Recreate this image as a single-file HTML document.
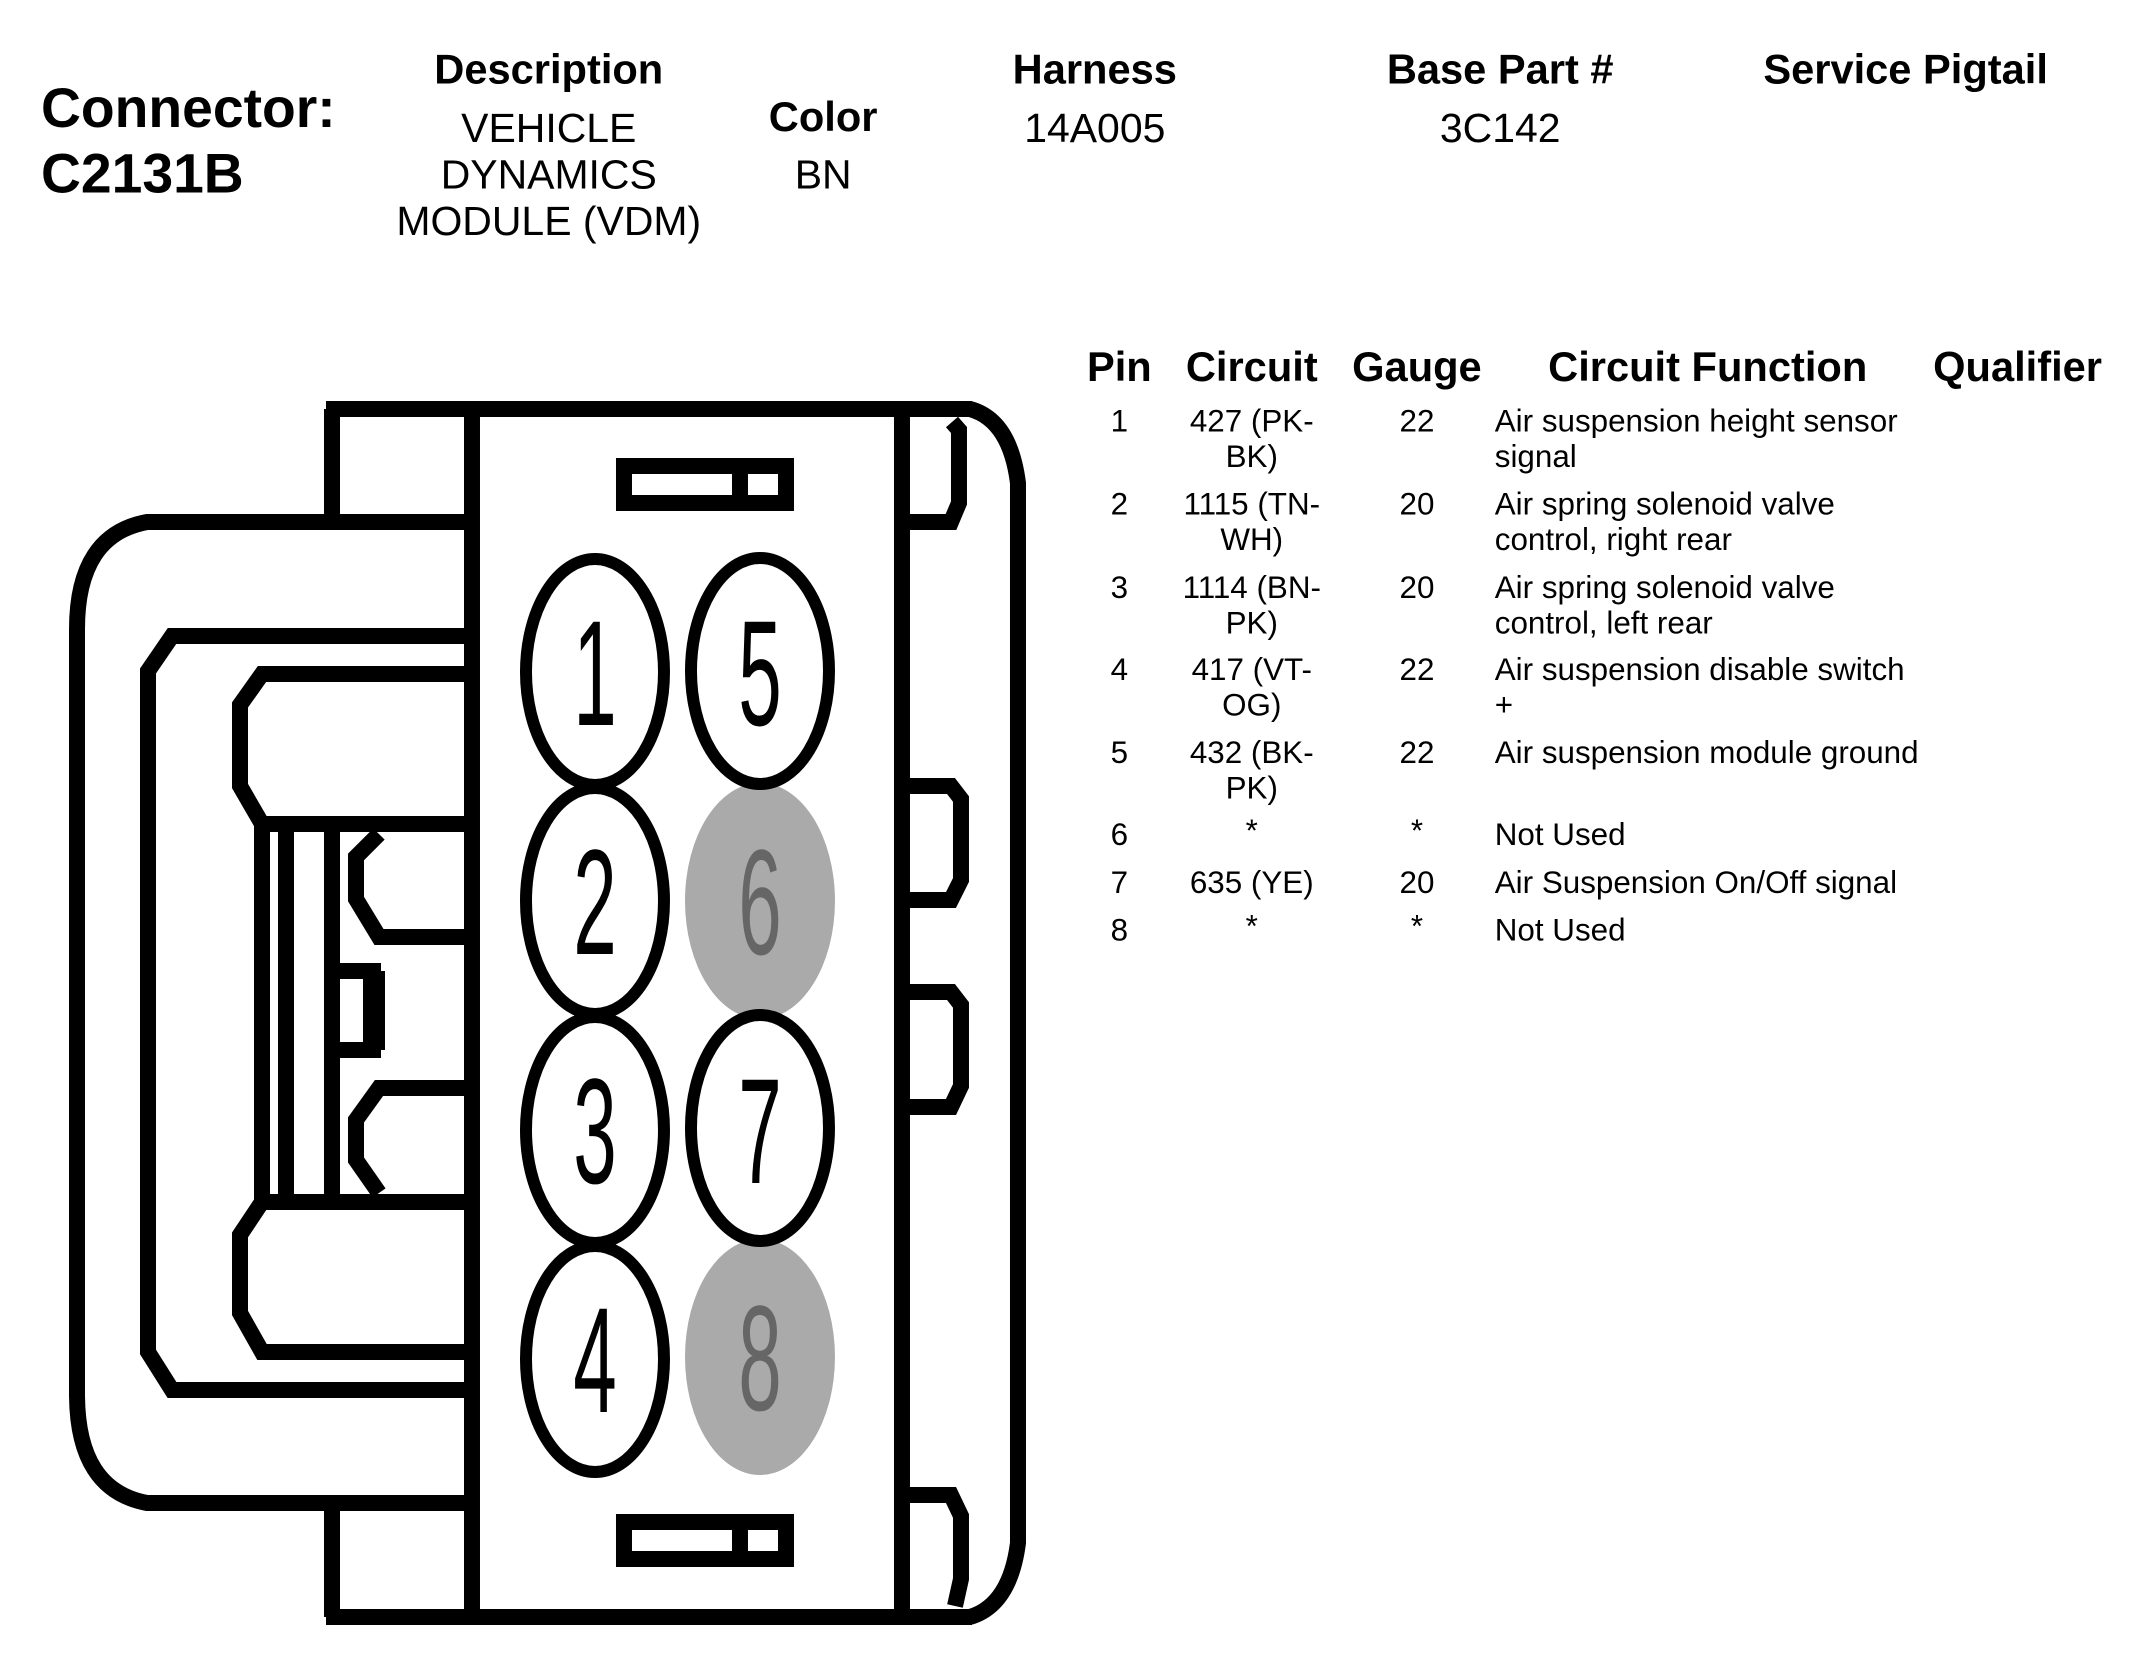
<!DOCTYPE html>
<html><head><meta charset="utf-8"><style>
html,body{margin:0;padding:0;background:#fff;}
svg{display:block;}
text{font-family:"Liberation Sans",Arial,sans-serif;fill:#000;}
.h{font-weight:bold;font-size:30.5px;text-anchor:middle;}
.v{font-size:30px;text-anchor:middle;}
.r{font-size:23px;}
.c{text-anchor:middle;}
.n{font-size:150px;text-anchor:middle;}
</style></head><body>
<svg width="2140" height="1680" viewBox="0 0 1552 1218.4" xmlns="http://www.w3.org/2000/svg">
<rect width="1552" height="1218.4" fill="#fff"/>
<g transform="scale(0.99)">
<text x="30" y="93" style="font-weight:bold;font-size:40.5px">Connector:</text>
<text x="30" y="141" style="font-weight:bold;font-size:40.5px">C2131B</text>
<text class="h" x="402" y="61">Description</text>
<text class="v" x="402" y="104">VEHICLE</text>
<text class="v" x="402" y="138">DYNAMICS</text>
<text class="v" x="402" y="172">MODULE (VDM)</text>
<text class="h" x="603" y="96">Color</text>
<text class="v" x="603" y="138">BN</text>
<text class="h" x="802" y="61">Harness</text>
<text class="v" x="802" y="104">14A005</text>
<text class="h" x="1099" y="61">Base Part #</text>
<text class="v" x="1099" y="104">3C142</text>
<text class="h" x="1396" y="61">Service Pigtail</text>

<text class="h" x="820" y="279">Pin</text>
<text class="h" x="917" y="279">Circuit</text>
<text class="h" x="1038" y="279">Gauge</text>
<text class="h" x="1251" y="279">Circuit Function</text>
<text class="h" x="1478" y="279">Qualifier</text>
<g class="r">
<text class="c" x="820" y="316">1</text><text class="c" x="917" y="316">427 (PK-</text><text class="c" x="917" y="342">BK)</text><text class="c" x="1038" y="316">22</text><text x="1095" y="316">Air suspension height sensor</text><text x="1095" y="342">signal</text>
<text class="c" x="820" y="377">2</text><text class="c" x="917" y="377">1115 (TN-</text><text class="c" x="917" y="403">WH)</text><text class="c" x="1038" y="377">20</text><text x="1095" y="377">Air spring solenoid valve</text><text x="1095" y="403">control, right rear</text>
<text class="c" x="820" y="438">3</text><text class="c" x="917" y="438">1114 (BN-</text><text class="c" x="917" y="464">PK)</text><text class="c" x="1038" y="438">20</text><text x="1095" y="438">Air spring solenoid valve</text><text x="1095" y="464">control, left rear</text>
<text class="c" x="820" y="498">4</text><text class="c" x="917" y="498">417 (VT-</text><text class="c" x="917" y="524">OG)</text><text class="c" x="1038" y="498">22</text><text x="1095" y="498">Air suspension disable switch</text><text x="1095" y="524">+</text>
<text class="c" x="820" y="559">5</text><text class="c" x="917" y="559">432 (BK-</text><text class="c" x="917" y="585">PK)</text><text class="c" x="1038" y="559">22</text><text x="1095" y="559">Air suspension module ground</text>
<text class="c" x="820" y="619">6</text><text class="c" x="917" y="616">*</text><text class="c" x="1038" y="616">*</text><text x="1095" y="619">Not Used</text>
<text class="c" x="820" y="654">7</text><text class="c" x="917" y="654">635 (YE)</text><text class="c" x="1038" y="654">20</text><text x="1095" y="654">Air Suspension On/Off signal</text>
<text class="c" x="820" y="689">8</text><text class="c" x="917" y="686">*</text><text class="c" x="1038" y="686">*</text><text x="1095" y="689">Not Used</text>
</g>
</g>

<g transform="scale(0.72522)">
<g fill="none" stroke="#000" stroke-width="16" stroke-linejoin="miter">
<line x1="326" y1="409" x2="972" y2="409"/>
<line x1="326" y1="1617" x2="972" y2="1617"/>
<line x1="332" y1="409" x2="332" y2="522"/>
<line x1="332" y1="1503" x2="332" y2="1617"/>
<line x1="472" y1="409" x2="472" y2="1617"/>
<line x1="902" y1="409" x2="902" y2="1617"/>
<path d="M970,409 Q1010,420 1018,483 L1018,1543 Q1010,1605 970,1617"/>
<path d="M952,422 L959,430 L959,503 L951,522 L902,522"/>
<path d="M902,786 L951,786 L961,799 L961,880 L951,900 L902,900"/>
<path d="M902,992 L951,992 L961,1005 L961,1086 L951,1107 L902,1107"/>
<path d="M902,1495 L951,1495 L961,1516 L961,1579 L955,1606"/>
<path d="M624,466 L786,466 L786,503 L624,503 Z"/>
<line x1="740" y1="466" x2="740" y2="503"/>
<path d="M624,1522 L786,1522 L786,1559 L624,1559 Z"/>
<line x1="740" y1="1522" x2="740" y2="1559"/>
<path d="M472,522 L147,522 Q77,535 77,629 L77,1394 Q77,1490 147,1503 L472,1503"/>
<path d="M472,636 L172,636 L148,671 L148,1352 L172,1390 L472,1390"/>
<path d="M472,674 L262,674 L240,705 L240,786 L262,824 L472,824"/>
<path d="M472,1202 L262,1202 L240,1235 L240,1313 L262,1352 L472,1352"/>
<line x1="262" y1="824" x2="262" y2="1202"/>
<line x1="286" y1="824" x2="286" y2="1202"/>
<line x1="332" y1="824" x2="332" y2="1202"/>
<path d="M379,834 L356,857 L356,899 L379,937 L472,937"/>
<path d="M472,1088 L379,1088 L356,1120 L356,1160 L379,1193"/>
<path d="M332,971 L373,971 L373,1050 L332,1050"/>
<line x1="374" y1="971" x2="374" y2="1050" stroke-width="22"/>
</g>

<ellipse cx="760" cy="901" rx="75" ry="118" fill="#aaa"/>
<ellipse cx="760" cy="1357" rx="75" ry="118" fill="#aaa"/>
<g fill="#fff" stroke="#000" stroke-width="12">
<ellipse cx="595" cy="672" rx="69" ry="113"/>
<ellipse cx="760" cy="671" rx="69" ry="113"/>
<ellipse cx="595" cy="901" rx="69" ry="113"/>
<ellipse cx="595" cy="1130" rx="69" ry="113"/>
<ellipse cx="760" cy="1128" rx="69" ry="113"/>
<ellipse cx="595" cy="1359" rx="69" ry="113"/>
</g>
<text transform="translate(595,725) scale(0.52,1)" class="n">1</text>
<text transform="translate(760,725) scale(0.52,1)" class="n">5</text>
<text transform="translate(595,954) scale(0.52,1)" class="n">2</text>
<text transform="translate(760,954) scale(0.52,1)" class="n" style="fill:#666">6</text>
<text transform="translate(595,1183) scale(0.52,1)" class="n">3</text>
<text transform="translate(760,1183) scale(0.52,1)" class="n">7</text>
<text transform="translate(595,1412) scale(0.52,1)" class="n">4</text>
<text transform="translate(760,1410) scale(0.52,1)" class="n" style="fill:#666">8</text>
</g>
</svg>
</body></html>
